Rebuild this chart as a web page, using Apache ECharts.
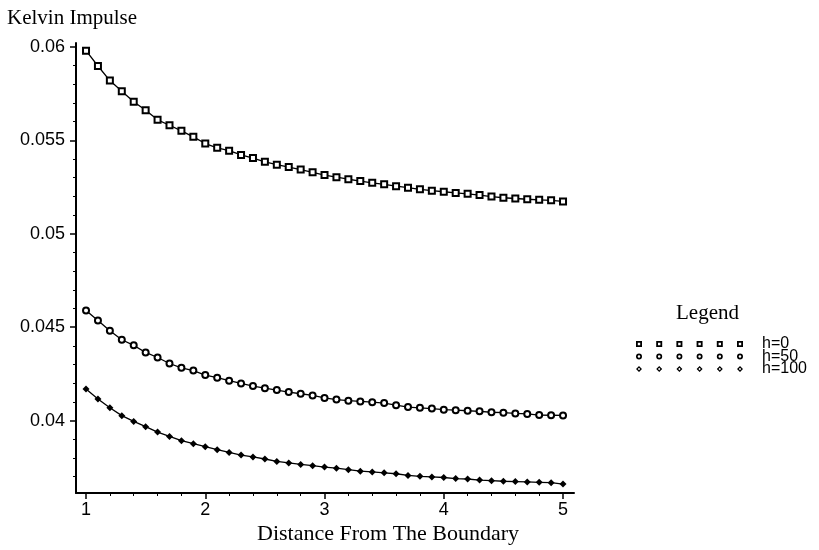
<!DOCTYPE html>
<html>
<head>
<meta charset="utf-8">
<script src="https://cdn.jsdelivr.net/npm/echarts@6/dist/echarts.min.js"></script>
<style>html,body{margin:0;padding:0;background:#fff;}#chart{width:819px;height:550px;}</style>
</head>
<body>
<div id="chart"></div>
<script>
// ---- data ----
const distance = [1.0,1.1,1.2,1.3,1.4,1.5,1.6,1.7,1.8,1.9,2.0,2.1,2.2,2.3,2.4,2.5,2.6,2.7,2.8,2.9,3.0,
                  3.1,3.2,3.3,3.4,3.5,3.6,3.7,3.8,3.9,4.0,4.1,4.2,4.3,4.4,4.5,4.6,4.7,4.8,4.9,5.0];
const seriesNames = ['h=0','h=50','h=100'];
const impulseH0 = [0.0598,0.05898,0.0582,0.05763,0.05707,0.05661,0.0561,0.05581,0.05551,0.05519,0.05483,
                   0.0546,0.05445,0.05422,0.05405,0.05385,0.0537,0.05357,0.05344,0.05329,0.05314,
                   0.05303,0.05292,0.05282,0.05273,0.05265,0.05255,0.05247,0.05238,0.05231,0.05225,
                   0.05219,0.05214,0.05207,0.05199,0.05193,0.05189,0.05185,0.05182,0.05179,0.05173];
const impulseH50 = [0.0459,0.04536,0.04481,0.04433,0.04403,0.04365,0.04338,0.04306,0.04283,0.04268,0.04244,
                    0.0423,0.04214,0.04199,0.04185,0.04174,0.04164,0.04153,0.04144,0.04135,0.04122,
                    0.04113,0.04107,0.04103,0.04099,0.04094,0.04083,0.04073,0.04069,0.04065,0.04059,
                    0.04056,0.04053,0.0405,0.04045,0.04043,0.04039,0.04036,0.0403,0.04029,0.04028];
const impulseH100 = [0.04169,0.04116,0.04069,0.04027,0.03996,0.03968,0.03939,0.03916,0.03893,0.03877,0.03861,
                     0.03845,0.0383,0.03816,0.03806,0.03795,0.03782,0.03774,0.03766,0.03759,0.03752,
                     0.03746,0.03738,0.0373,0.03726,0.03721,0.03716,0.03707,0.03702,0.03699,0.03696,
                     0.0369,0.03688,0.03682,0.03679,0.03676,0.03674,0.03672,0.0367,0.03668,0.03661];
const xTickValues = [1,2,3,4,5];
const xTickLabels = ['1','2','3','4','5'];
const xMinorTicks = [1.2,1.4,1.6,1.8,2.2,2.4,2.6,2.8,3.2,3.4,3.6,3.8,4.2,4.4,4.6,4.8];
const yTickValues = [0.04,0.045,0.05,0.055,0.06];
const yTickLabels = ['0.04','0.045','0.05','0.055','0.06'];
const yMinorTicks = [0.037,0.038,0.039,0.041,0.042,0.043,0.044,0.046,0.047,0.048,0.049,
                     0.051,0.052,0.053,0.054,0.056,0.057,0.058,0.059];

// ---- legend icons (style only) ----
const iconXs = [0,20.2,40.4,60.6,80.8,101];
function sq(x){return `M${x} 0L${x+6} 0L${x+6} 6L${x} 6Z M${x+1.8} 1.8L${x+1.8} 4.2L${x+4.2} 4.2L${x+4.2} 1.8Z`;}
function ci(x){return `M${x} 3A3 3 0 1 1 ${x+6} 3A3 3 0 1 1 ${x} 3Z M${x+1.7} 3A1.3 1.3 0 1 0 ${x+4.3} 3A1.3 1.3 0 1 0 ${x+1.7} 3Z`;}
function di(x){return `M${x+3} 0L${x+6} 3L${x+3} 6L${x} 3Z M${x+3} 1.8L${x+1.8} 3L${x+3} 4.2L${x+4.2} 3Z`;}
const icons = [sq,ci,di].map(f => 'path://' + iconXs.map(f).join(' '));

function pairs(ys){return distance.map((x,i)=>[x, ys[i]]);}
function labelFor(vals, labs){return v => {const i = vals.findIndex(t => Math.abs(t - v) < 1e-9); return i >= 0 ? labs[i] : '';};}

const chart = echarts.init(document.getElementById('chart'), null, {renderer:'canvas'});
const X_MIN = 0.916, X_MAX = 5.092, Y_MIN = 0.03613, Y_MAX = 0.06021;
const sans = 'Liberation Sans', serif = 'Liberation Serif';

chart.setOption({
  animation: false,
  backgroundColor: '#fff',
  title: [
    {text: 'Kelvin Impulse', left: 2, top: 3, textStyle: {fontFamily: serif, fontSize: 21, fontWeight: 'normal', color: '#000'}},
    {text: 'Distance From The Boundary', left: 252, top: 518, textStyle: {fontFamily: serif, fontSize: 22, fontWeight: 'normal', color: '#000'}},
    {text: 'Legend', left: 671, top: 298, textStyle: {fontFamily: serif, fontSize: 21, fontWeight: 'normal', color: '#000'}}
  ],
  grid: {left: 76, right: 245, top: 43, bottom: 57, containLabel: false},
  legend: {
    orient: 'vertical', left: 631, top: 331, itemGap: -3.5,
    itemWidth: 107, itemHeight: 6,
    itemStyle: {color: '#000', borderWidth: 0},
    textStyle: {fontFamily: sans, fontSize: 16, color: '#000', padding: [0,0,0,14]},
    data: seriesNames.map((n,i) => ({name: n, icon: icons[i]}))
  },
  xAxis: [
    {type: 'value', min: X_MIN, max: X_MAX, position: 'bottom',
     axisLine: {show: true, onZero: false, lineStyle: {color: '#000', width: 2}},
     axisTick: {show: true, customValues: xTickValues, length: 6, lineStyle: {color: '#000', width: 1.5}},
     axisLabel: {customValues: xTickValues, formatter: labelFor(xTickValues, xTickLabels), margin: 8,
                 fontFamily: sans, fontSize: 18, color: '#000'},
     splitLine: {show: false}},
    {type: 'value', min: X_MIN, max: X_MAX, position: 'bottom',
     axisLine: {show: false, onZero: false},
     axisTick: {show: true, customValues: xMinorTicks, length: 3, lineStyle: {color: '#000', width: 1}},
     axisLabel: {show: false}, splitLine: {show: false}}
  ],
  yAxis: [
    {type: 'value', min: Y_MIN, max: Y_MAX, position: 'left',
     axisLine: {show: true, onZero: false, lineStyle: {color: '#000', width: 2}},
     axisTick: {show: true, customValues: yTickValues, length: 6, lineStyle: {color: '#000', width: 1.5}},
     axisLabel: {customValues: yTickValues, formatter: labelFor(yTickValues, yTickLabels), margin: 11,
                 fontFamily: sans, fontSize: 18, color: '#000'},
     splitLine: {show: false}},
    {type: 'value', min: Y_MIN, max: Y_MAX, position: 'left',
     axisLine: {show: false, onZero: false},
     axisTick: {show: true, customValues: yMinorTicks, length: 3, lineStyle: {color: '#000', width: 1}},
     axisLabel: {show: false}, splitLine: {show: false}}
  ],
  series: [
    {name: seriesNames[0], type: 'line', data: pairs(impulseH0), symbol: 'emptyRect', symbolSize: 6,
     lineStyle: {color: '#000', width: 1.3}, itemStyle: {color: '#000', borderWidth: 1.6}},
    {name: seriesNames[1], type: 'line', data: pairs(impulseH50), symbol: 'emptyCircle', symbolSize: 6,
     lineStyle: {color: '#000', width: 1.3}, itemStyle: {color: '#000', borderWidth: 1.6}},
    {name: seriesNames[2], type: 'line', data: pairs(impulseH100), symbol: 'diamond', symbolSize: 7,
     lineStyle: {color: '#000', width: 1.3}, itemStyle: {color: '#000', borderWidth: 0}}
  ]
});
</script>
</body>
</html>
